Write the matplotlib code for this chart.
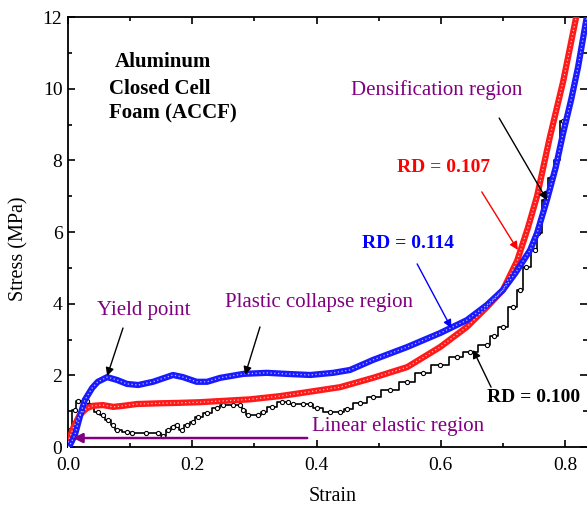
import matplotlib
matplotlib.use("Agg")
import matplotlib.pyplot as plt
from matplotlib.ticker import MultipleLocator

plt.rcParams['font.family'] = ['Liberation Serif', 'DejaVu Serif']

# RD = 0.114 (blue)
strain_114 = [0.0, 0.003, 0.011, 0.019, 0.027, 0.039, 0.048, 0.063, 0.079, 0.095,
              0.113, 0.137, 0.169, 0.185, 0.207, 0.224, 0.245, 0.282, 0.32, 0.352,
              0.39, 0.427, 0.454, 0.491, 0.546, 0.599, 0.642, 0.674, 0.70, 0.72,
              0.744, 0.755, 0.771, 0.785, 0.797, 0.81, 0.821, 0.834, 0.84]
stress_114 = [0.0, 0.05, 0.33, 0.84, 1.31, 1.65, 1.82, 1.95, 1.87, 1.76,
              1.73, 1.82, 2.01, 1.95, 1.82, 1.82, 1.93, 2.04, 2.07, 2.04,
              2.01, 2.07, 2.15, 2.43, 2.79, 3.18, 3.54, 3.96, 4.38, 4.85,
              5.5, 5.97, 6.9, 7.8, 8.76, 9.7, 10.6, 11.9, 12.4]

# RD = 0.107 (red)
strain_107 = [0.0, 0.008, 0.019, 0.03, 0.04, 0.056, 0.073, 0.089, 0.111, 0.148,
              0.175, 0.212, 0.293, 0.341, 0.373, 0.438, 0.491, 0.546, 0.599, 0.642,
              0.674, 0.70, 0.723, 0.74, 0.755, 0.775, 0.797, 0.818, 0.825]
stress_107 = [0.13, 0.52, 0.9, 1.08, 1.15, 1.17, 1.12, 1.15, 1.2, 1.22,
              1.23, 1.25, 1.33, 1.42, 1.5, 1.67, 1.93, 2.23, 2.79, 3.35,
              3.9, 4.38, 5.2, 6.1, 7.0, 8.6, 10.2, 12.0, 12.6]

# RD = 0.100 (black, stepped)
strain_100 = [0.0, 0.003, 0.011, 0.016, 0.030, 0.035, 0.048, 0.056, 0.064, 0.073,
              0.079, 0.095, 0.103, 0.125, 0.145, 0.153, 0.161, 0.169, 0.175, 0.183,
              0.191, 0.201, 0.209, 0.224, 0.24, 0.25, 0.265, 0.277, 0.282, 0.29,
              0.306, 0.314, 0.328, 0.344, 0.354, 0.362, 0.378, 0.39, 0.40, 0.422,
              0.438, 0.449, 0.47, 0.491, 0.518, 0.546, 0.571, 0.599, 0.626, 0.647,
              0.674, 0.685, 0.70, 0.716, 0.728, 0.738, 0.752, 0.757, 0.768, 0.778,
              0.787, 0.797]
stress_100 = [0.0, 0.47, 1.03, 1.28, 1.28, 1.17, 0.98, 0.89, 0.75, 0.61,
              0.47, 0.42, 0.39, 0.39, 0.39, 0.31, 0.47, 0.56, 0.61, 0.47,
              0.61, 0.70, 0.84, 0.95, 1.09, 1.17, 1.17, 1.17, 1.03, 0.89,
              0.89, 0.98, 1.12, 1.26, 1.26, 1.2, 1.2, 1.2, 1.09, 0.98,
              0.98, 1.05, 1.23, 1.4, 1.59, 1.81, 2.06, 2.29, 2.51, 2.65,
              2.85, 3.1, 3.35, 3.9, 4.38, 5.03, 5.5, 5.97, 6.9, 7.5,
              8.0, 9.1]

fig = plt.figure(figsize=(5.87, 5.09), dpi=100)
ax = fig.add_axes([68 / 587, 1 - 447 / 509, 1 - 68 / 587, 430 / 509])

# black stepped curve with open circles
ax.plot(strain_100, stress_100, color='black', lw=1.2, drawstyle='steps-mid', zorder=2)
ax.plot(strain_100, stress_100, ls='none', marker='o', ms=3, mfc='white',
        mec='black', mew=0.8, zorder=3)

# thick red / blue curves made of dense circles
for xs, ys, c in [(strain_107, stress_107, '#ff1a1a'), (strain_114, stress_114, '#1a1aff')]:
    ax.plot(xs, ys, color=c, lw=4.5, solid_capstyle='round', zorder=4)
    ax.plot(xs, ys, color='white', lw=0.9, ls=(0, (1, 2)), alpha=0.7, zorder=5)

ax.set_xlim(0, 0.8354)
ax.set_ylim(0, 12)
ax.xaxis.set_minor_locator(MultipleLocator(0.1))
ax.yaxis.set_major_locator(MultipleLocator(2))
ax.yaxis.set_minor_locator(MultipleLocator(1))
ax.set_xticks([0, 0.2, 0.4, 0.6, 0.8])
ax.set_xticklabels(['0.0', '0.2', '0.4', '0.6', '0.8'])
ax.tick_params(which='both', direction='in', top=True, right=True, width=1.2)
ax.tick_params(which='major', length=5, labelsize=14)
ax.tick_params(which='minor', length=3)
ax.tick_params(axis='x', pad=7)
ax.tick_params(axis='y', pad=4)
for s in ['left', 'bottom', 'top']:
    ax.spines[s].set_linewidth(1.3)
ax.spines['right'].set_visible(False)

ax.set_xlabel('Strain', fontsize=14.5)
ax.set_ylabel('Stress (MPa)', fontsize=14.5)
ax.xaxis.set_label_coords(0.509, -0.093)
ax.yaxis.set_label_coords(-0.077, 0.46)

# title block
ax.text(0.076, 10.75, 'Aluminum', fontsize=15, fontweight='bold', ha='left', va='center')
ax.text(0.066, 10.0, 'Closed Cell', fontsize=15, fontweight='bold', ha='left', va='center')
ax.text(0.066, 9.3, 'Foam (ACCF)', fontsize=15, fontweight='bold', ha='left', va='center')

purple = '#800080'
ax.text(0.594, 9.96, 'Densification region', color=purple, fontsize=15, ha='center', va='center')
ax.text(0.404, 4.02, 'Plastic collapse region', color=purple, fontsize=15, ha='center', va='center')
ax.text(0.122, 3.82, 'Yield point', color=purple, fontsize=15, ha='center', va='center')
ax.text(0.531, 0.56, 'Linear elastic region', color=purple, fontsize=15, ha='center', va='center')

ax.text(0.604, 7.79, 'RD = 0.107', color='red', fontsize=14, fontweight='bold', ha='center', va='center')
ax.text(0.547, 5.69, 'RD = 0.114', color='blue', fontsize=14, fontweight='bold', ha='center', va='center')
ax.text(0.75, 1.37, 'RD = 0.100', color='black', fontsize=14, fontweight='bold', ha='center', va='center')

arr = dict(arrowstyle='-|>', lw=1, mutation_scale=12, shrinkA=0, shrinkB=0)
ax.annotate('', xy=(0.771, 6.89), xytext=(0.694, 9.18), arrowprops=dict(arr, color='black'), zorder=6)
ax.annotate('', xy=(0.724, 5.5), xytext=(0.666, 7.12), arrowprops=dict(arr, color='red'), zorder=6)
ax.annotate('', xy=(0.617, 3.32), xytext=(0.562, 5.11), arrowprops=dict(arr, color='blue'), zorder=6)
ax.annotate('', xy=(0.285, 2.01), xytext=(0.309, 3.35), arrowprops=dict(arr, color='black'), zorder=6)
ax.annotate('', xy=(0.063, 1.98), xytext=(0.0885, 3.32), arrowprops=dict(arr, color='black'), zorder=6)
ax.annotate('', xy=(0.652, 2.71), xytext=(0.681, 1.67), arrowprops=dict(arr, color='black'), zorder=6)
ax.annotate('', xy=(0.008, 0.25), xytext=(0.385, 0.25),
            arrowprops=dict(arrowstyle='-|>', lw=1.8, color=purple, mutation_scale=14,
                            shrinkA=0, shrinkB=0), zorder=6)

fig.savefig('out.png', dpi=100)
